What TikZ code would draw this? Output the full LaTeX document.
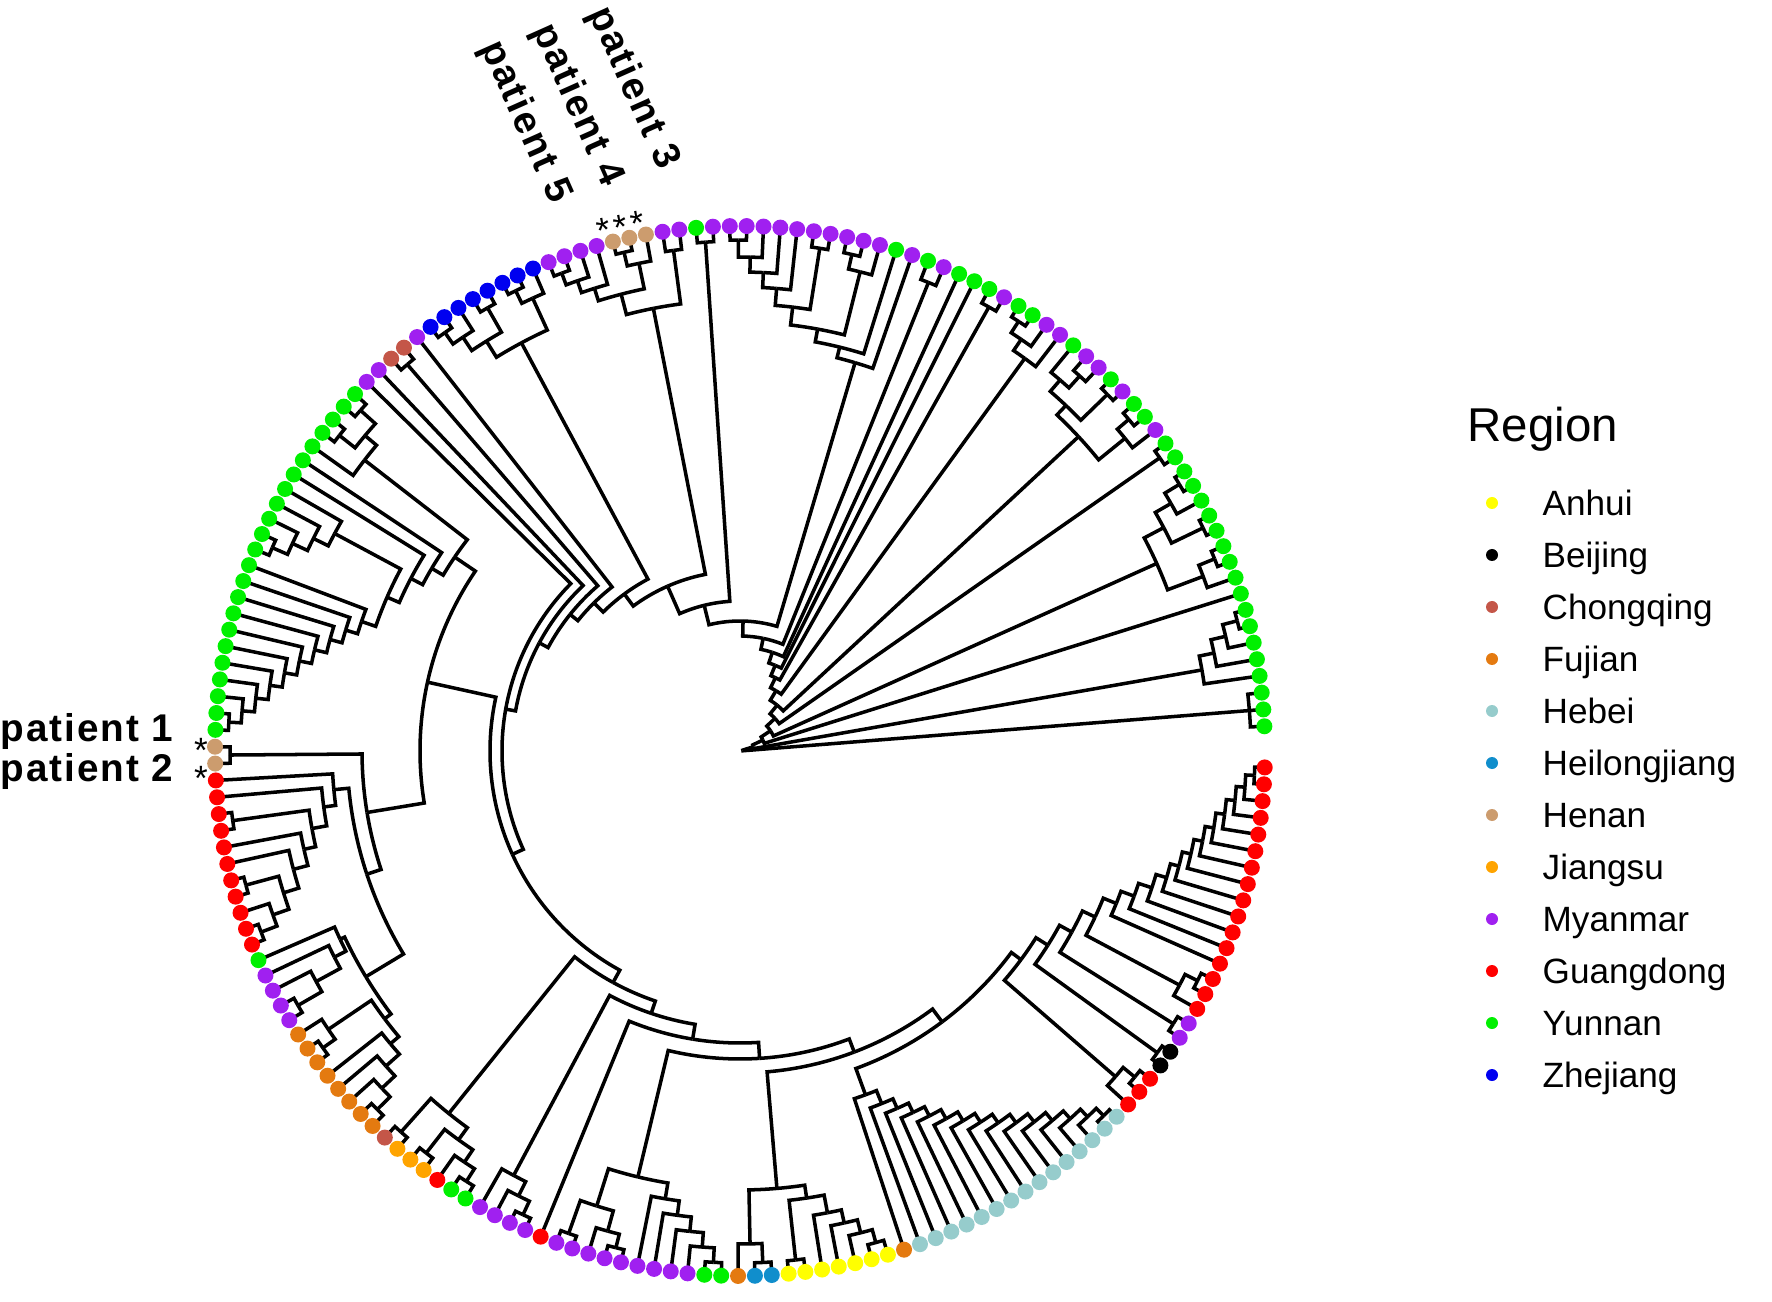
\documentclass[tikz,border=0pt]{standalone}
\usepackage{fontspec}
\setmainfont{Liberation Sans}
\usetikzlibrary{positioning}

\definecolor{ah}{RGB}{255,255,0}
\definecolor{bj}{RGB}{0,0,0}
\definecolor{cq}{RGB}{196,86,72}
\definecolor{fj}{RGB}{228,122,16}
\definecolor{hb}{RGB}{150,204,204}
\definecolor{hl}{RGB}{16,142,204}
\definecolor{hn}{RGB}{204,156,110}
\definecolor{js}{RGB}{255,164,0}
\definecolor{my}{RGB}{160,32,240}
\definecolor{gd}{RGB}{255,0,0}
\definecolor{yn}{RGB}{0,240,0}
\definecolor{zj}{RGB}{0,0,240}

\makeatletter
% tip i sits at angle tipA + (i-1)*tipS, radius 5.25
\def\tipA{2.7}\def\tipS{1.842}
\newcommand\inittips{%
  \foreach \i in {1,...,194}{%
    \expandafter\xdef\csname p@\i\endcsname{\i}%
    \expandafter\xdef\csname r@\i\endcsname{5.25}}}
% elbow from child (pos,rad) to parent (pos,rad)
\newcommand\edge[4]{%
  \pgfmathsetmacro\e@a{\tipA+(#1-1)*\tipS}%
  \pgfmathsetmacro\e@b{\tipA+(#3-1)*\tipS}%
  \pgfmathsetmacro\e@r{#2}\pgfmathsetmacro\e@q{max(#4,0.001)}%
  \draw[branch] (\e@a:\e@r) -- (\e@a:\e@q)
    arc[start angle=\e@a, end angle=\e@b, radius=\e@q];}
% internal node: name, radius, children
\newcommand\J[3]{%
  \edef\J@list{#3}%
  \xdef\J@s{0}\xdef\J@n{0}%
  \foreach \ch in \J@list{%
    \pgfmathsetmacro\J@t{\J@s+\csname p@\ch\endcsname}\xdef\J@s{\J@t}%
    \pgfmathtruncatemacro\J@t{\J@n+1}\xdef\J@n{\J@t}}%
  \pgfmathsetmacro\J@m{\J@s/\J@n}%
  \expandafter\xdef\csname p@#1\endcsname{\J@m}%
  \expandafter\xdef\csname r@#1\endcsname{#2}%
  \foreach \ch in \J@list{%
    \edge{\csname p@\ch\endcsname}{\csname r@\ch\endcsname}{\J@m}{#2}}}
% ladder: name, root radius, first-pair radius, children from the inside out
\newcommand\lad[4]{%
  \xdef\l@n{0}%
  \foreach \ch in {#4}{\pgfmathtruncatemacro\l@t{\l@n+1}\xdef\l@n{\l@t}}%
  \foreach \ch [count=\kk] in {#4}{%
    \ifnum\kk=1 \xdef\l@cur{\ch}\else
      \pgfmathsetmacro\l@r{#3+(#2-#3)*(\kk-2)/max(\l@n-2,1)}%
      \edef\l@list{\l@cur,\ch}%
      \J{#1-\kk}{\l@r}{\l@list}%
      \xdef\l@cur{#1-\kk}%
    \fi}%
  \expandafter\xdef\csname p@#1\endcsname{\csname p@\l@cur\endcsname}%
  \expandafter\xdef\csname r@#1\endcsname{\csname r@\l@cur\endcsname}}
\makeatother

\tikzset{
  branch/.style={line width=1pt, line join=miter},
  tip/.style={circle, inner sep=0pt, minimum size=1.6mm},
  legdot/.style={circle, inner sep=0pt, minimum size=1.2mm},
  leglabel/.style={anchor=base west, inner sep=0pt, font=\fontsize{10}{12}\selectfont},
  patient/.style={inner sep=0pt, font=\fontsize{11}{13}\selectfont\bfseries\addfontfeature{LetterSpace=5}},
  star/.style={inner sep=0pt, font=\fontsize{10}{4.8}\selectfont}
}

\begin{document}
\begin{tikzpicture}
\useasboundingbox (-7.40,-5.51) rectangle (10.32,7.51);
\inittips

% upper right: Yunnan / Myanmar
\J{C1}{5.11}{1,2,3}
\lad{C2}{4.69}{5.14}{8,7,6,5,4}
\J{c1112}{5.12}{11,12}
\J{c1012}{4.95}{10,c1112}
\J{c1314}{5.14}{13,14}
\J{c1617}{5.14}{16,17}
\J{c1517}{4.97}{15,c1617}
\J{c1317}{4.79}{c1314,c1517}
\J{C3}{4.57}{c1012,c1317}
\J{C4}{5.12}{18,19}
\J{c2122}{5.11}{21,22}
\J{c2022}{4.96}{20,c2122}
\J{c2324}{5.12}{23,24}
\J{c2526}{5.06}{25,26}
\J{c2527}{4.9}{c2526,27}
\J{c2327}{4.75}{c2324,c2527}
\J{C5}{4.62}{c2022,c2327}
\lad{C6}{4.85}{5.12}{31,30,29,28}
\J{C7}{5.09}{32,33}
\J{C8}{5.05}{36,37}
\J{c4849}{5.11}{48,49}
\J{p47}{4.94}{47,c4849}
\J{p46}{4.79}{46,p47}
\J{p45}{4.64}{45,p46}
\J{c4344}{5.09}{43,44}
\J{p43}{4.47}{c4344,p45}
\J{c4142}{5.09}{41,42}
\J{c4042}{4.94}{40,c4142}
\J{p40}{4.29}{c4042,p43}
\J{p39}{4.16}{39,p40}
\J{P}{4.05}{38,p39}
\J{C9}{5.1}{50,51}

% upper left: Henan, Zhejiang, Yunnan
\J{h5253}{5.05}{52,53}
\J{h5556}{5.12}{55,56}
\J{h5456}{4.98}{54,h5556}
\lad{h5760}{4.85}{5.1}{60,59,58,57}
\J{h5460}{4.72}{h5456,h5760}
\J{H}{4.51}{h5253,h5460}
\J{z6263}{5.12}{62,63}
\J{z6163}{4.98}{61,z6263}
\J{z6465}{5.1}{64,65}
\J{z6768}{5.12}{67,68}
\J{z6668}{4.98}{66,z6768}
\J{z6468}{4.82}{z6465,z6668}
\J{Z}{4.63}{z6163,z6468}
\J{C10}{5.1}{70,71}
\J{y7475}{5.1}{74,75}
\J{y7677}{5.1}{76,77}
\J{y7477}{4.9}{y7475,y7677}
\J{y7478}{4.75}{y7477,78}
\lad{Y2}{4.6}{5.1}{84,85,83,82,81}
\lad{Y3}{4.0}{5.12}{95,96,94,93,92,91,90,89,88,87,86}
\lad{Y}{3.45}{3.85}{Y3,Y2,80,79,y7478}

% left: Henan, Guangdong, Fujian, Jiangsu
\J{N97}{5.1}{97,98}
\J{r0102}{5.12}{101,102}
\J{r0506}{5.12}{105,106}
\J{r0809}{5.12}{108,109}
\J{r0709}{4.95}{107,r0809}
\J{r0509}{4.78}{r0506,r0709}
\J{r0409}{4.62}{104,r0509}
\J{r0309}{4.47}{103,r0409}
\J{r0109}{4.35}{r0102,r0309}
\J{r0009}{4.2}{100,r0109}
\J{R1}{4.08}{99,r0009}
\lad{pm}{4.55}{5.1}{113,114,112,111}
\J{g110}{4.42}{110,pm}
\J{f1617}{5.12}{116,117}
\J{f1517}{4.97}{115,f1617}
\lad{f1822}{4.56}{5.1}{121,122,120,119,118}
\J{F}{4.45}{f1517,f1822}
\J{PF}{4.37}{g110,F}
\J{LL2}{3.93}{R1,PF}
\J{LL1}{3.78}{N97,LL2}
\J{X}{3.2}{Y,LL1}
\J{cj1}{5.1}{123,124}
\J{cj2}{5.1}{125,126}
\J{cj3}{5.1}{128,129}
\J{cj4}{4.95}{127,cj3}
\J{cj5}{4.8}{cj2,cj4}
\J{CJ}{4.65}{cj1,cj5}

% bottom: Myanmar, Anhui, Hebei, Guangdong
\J{m3233}{5.12}{132,133}
\J{m3133}{4.97}{131,m3233}
\J{M130}{4.81}{130,m3133}
\J{m3536}{5.12}{135,136}
\J{m3839}{5.12}{138,139}
\J{m3739}{4.98}{137,m3839}
\J{m3539}{4.77}{m3536,m3739}
\lad{M2}{4.54}{5.12}{144,145,143,142,141,140}
\J{M}{4.38}{m3539,M2}
\J{k4748}{5.12}{147,148}
\J{FK}{4.93}{146,k4748}
\J{a4950}{5.12}{149,150}
\lad{a5155}{4.7}{5.1}{154,155,153,152,151}
\J{A}{4.52}{a4950,a5155}
\J{FKA}{4.39}{FK,A}
\lad{E}{3.8}{5.15}{170,171,169,168,167,166,165,164,163,162,161,160,159,158,157}
\J{FE}{3.66}{156,E}
\J{r7374}{5.12}{173,174}
\J{r7274}{4.97}{172,r7374}
\J{b7576}{5.15}{175,176}
\J{p7778}{5.12}{177,178}
\J{r8081}{5.12}{180,181}
\J{r7981}{4.98}{179,r8081}
\lad{rr}{4.45}{5.15}{193,194,192,191,190,189,188,187,186,185}
\lad{RR}{3.5}{4.34}{rr,184,183,182,r7981,p7778,b7576,r7274}

% backbone, spiralling in from the bottom right
\J{EH}{3.38}{FE,RR}
\J{N322}{3.22}{FKA,EH}
\J{N308}{3.08}{M,N322}
\J{N292}{2.92}{134,N308}
\J{N277}{2.77}{M130,N292}
\J{N264}{2.64}{CJ,N277}
\J{N250}{2.5}{X,N264}
\J{N238}{2.38}{73,N250}
\J{N228}{2.28}{72,N238}
\J{N218}{2.18}{C10,N228}
\J{N208}{2.08}{69,N218}
\J{N195}{1.95}{Z,N208}
\J{N180}{1.8}{H,N195}
\J{N150}{1.5}{C9,N180}
\J{N130}{1.3}{P,N150}
\lad{RG}{0.03}{1.15}{N130,C8,35,34,C7,C6,C5,C4,C3,9,C2,C1}

% tips
\foreach \cl [count=\i] in {yn,yn,yn,yn,yn,yn,yn,yn,yn,yn,yn,yn,yn,yn,yn,yn,yn,yn,yn,
  my,yn,yn,my,yn,my,my,yn,my,my,yn,yn,my,yn,yn,yn,my,yn,my,yn,
  my,my,my,my,my,my,my,my,my,my,my,yn,my,my,hn,hn,hn,my,my,my,my,
  zj,zj,zj,zj,zj,zj,zj,zj,my,cq,cq,my,my,
  yn,yn,yn,yn,yn,yn,yn,yn,yn,yn,yn,yn,yn,yn,yn,yn,yn,yn,yn,yn,yn,yn,yn,
  hn,hn,gd,gd,gd,gd,gd,gd,gd,gd,gd,gd,gd,yn,my,my,my,my,
  fj,fj,fj,fj,fj,fj,fj,fj,cq,js,js,js,gd,yn,yn,my,my,my,my,gd,
  my,my,my,my,my,my,my,my,my,yn,yn,fj,hl,hl,ah,ah,ah,ah,ah,ah,ah,fj,
  hb,hb,hb,hb,hb,hb,hb,hb,hb,hb,hb,hb,hb,hb,hb,gd,gd,gd,bj,bj,my,my,
  gd,gd,gd,gd,gd,gd,gd,gd,gd,gd,gd,gd,gd,gd,gd,gd}{
  \pgfmathsetmacro\a{\tipA+(\i-1)*\tipS}
  \node[tip, fill=\cl] (t\i) at (\a:5.25) {};
}

% marked patients
\node[star, rotate=11, font=\fontsize{10}{12}\selectfont\addfontfeature{LetterSpace=10}] (stop) at (-1.19,5.24) {***};
\node[star, align=center] (sleft) at (-5.39,-0.135) {*\\*};
\node[patient, anchor=base west] (pat1) at (-7.40,0.09) {patient 1};
\node[patient, anchor=base west] (pat2) at (-7.40,-0.31) {patient 2};
\node[patient, rotate=-66] (pat3) at (-1.07,6.63) {patient 3};
\node[patient, rotate=-66] (pat4) at (-1.63,6.46) {patient 4};
\node[patient, rotate=-66] (pat5) at (-2.15,6.29) {patient 5};

% legend
\node[anchor=west, inner sep=0pt, font=\fontsize{13.5}{16}\selectfont] (region) at (7.27,3.22) {Region};
\foreach \lab/\cl [count=\j] in {Anhui/ah, Beijing/bj, Chongqing/cq, Fujian/fj, Hebei/hb,
  Heilongjiang/hl, Henan/hn, Jiangsu/js, Myanmar/my, Guangdong/gd, Yunnan/yn, Zhejiang/zj}{
  \pgfmathsetmacro\y{2.48-(\j-1)*0.52}
  \node[legdot, fill=\cl] (d\j) at (7.52,\y) {};
  \node[leglabel] (l\j) at (8.02,\y-0.125) {\lab};
}
\end{tikzpicture}
\end{document}
